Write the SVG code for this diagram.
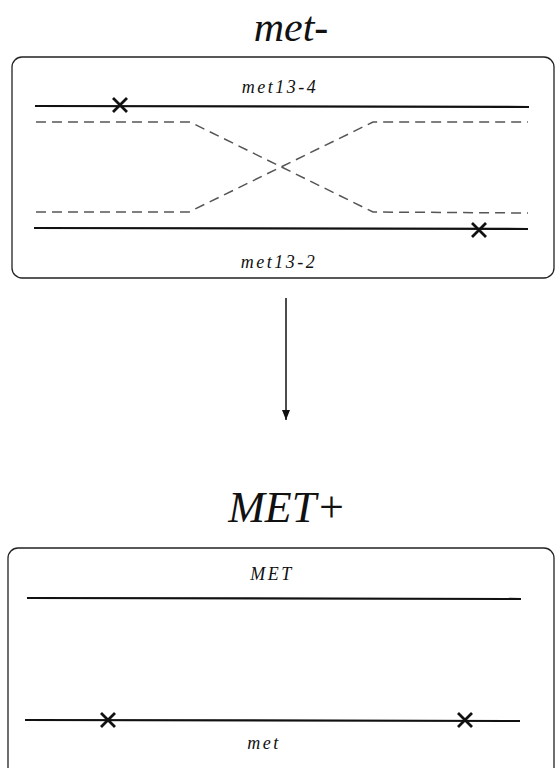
<svg xmlns="http://www.w3.org/2000/svg" width="556" height="768" viewBox="0 0 556 768">
<defs>
<style>
.box{fill:none;stroke:#222;stroke-width:1.3}
.solid{stroke:#111;stroke-width:2.2;fill:none}
.dash{stroke:#555;stroke-width:1.5;fill:none;stroke-dasharray:10 6}
.x{stroke:#111;stroke-width:2.8;fill:none}
.title{font-family:"Liberation Serif",serif;font-style:italic;font-size:44px;fill:#111;text-anchor:middle}
.lbl{font-family:"Liberation Serif",serif;font-style:italic;font-size:18px;letter-spacing:2.5px;fill:#111;text-anchor:middle}
</style>
<marker id="ah" markerWidth="10" markerHeight="8" refX="10" refY="4" orient="auto" markerUnits="userSpaceOnUse">
<path d="M0,0 L10,4 L0,8 Z" fill="#111"/>
</marker>
</defs>
<g id="title-top"><text class="title" x="291" y="41" style="font-size:42px">met-</text></g>
<g id="box-top">
<rect class="box" x="12" y="57" width="542" height="221" rx="10"/>
<text class="lbl" x="280" y="93">met13-4</text>
<line class="solid" x1="35" y1="106" x2="529" y2="107"/>
<path class="x" d="M113,98 L127,112 M127,98 L113,112"/>
<path class="dash" d="M36,122 L190,122 L373,212 L528,213"/>
<path class="dash" d="M36,212 L189,212 L373,122 L528,122"/>
<line class="solid" x1="34" y1="228" x2="528" y2="229"/>
<path class="x" d="M472,223 L486,237 M486,223 L472,237"/>
<text class="lbl" x="279" y="268">met13-2</text>
</g>
<g id="connectors">
<line x1="286" y1="298" x2="286" y2="420" stroke="#111" stroke-width="1.5" marker-end="url(#ah)"/>
</g>
<g id="title-bottom"><text class="title" x="287" y="522">MET+</text></g>
<g id="box-bottom">
<rect class="box" x="8" y="548" width="546" height="230" rx="10"/>
<text class="lbl" x="272" y="580">MET</text>
<line class="solid" x1="27" y1="598" x2="521" y2="599"/>
<line class="solid" x1="25" y1="720" x2="520" y2="721"/>
<path class="x" d="M101,713 L115,727 M115,713 L101,727"/>
<path class="x" d="M458,713 L472,727 M472,713 L458,727"/>
<text class="lbl" x="264" y="749">met</text>
</g>
</svg>
